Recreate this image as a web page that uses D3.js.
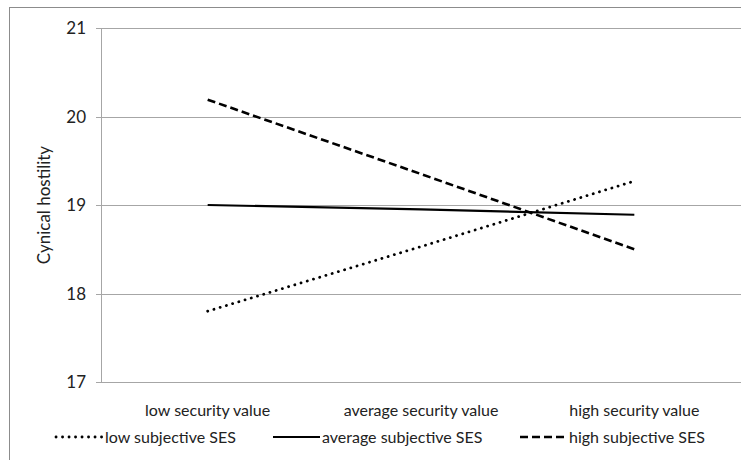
<!DOCTYPE html>
<meta charset="utf-8">
<style>
  body { margin: 0; background: #fff; }
  text { font-family: Lato, "Open Sans", sans-serif; fill: #222; }
</style>
<svg width="741" height="460"></svg>
<script src="https://d3js.org/d3.v7.min.js"></script>
<script>

var categories = ['low security value', 'average security value', 'high security value'];
var yTicks = [17, 18, 19, 20, 21];

var lowSES = [17.8, 18.53, 19.27];
var avgSES = [19.0, 18.95, 18.89];
var highSES = [20.19, 19.35, 18.5];

var series = [
  {name: 'low subjective SES', values: lowSES, dash: '0.1,6.4', cap: 'round', w: 2.8},
  {name: 'average subjective SES', values: avgSES, dash: null, cap: 'butt', w: 2.2},
  {name: 'high subjective SES', values: highSES, dash: '8,4', cap: 'butt', w: 2.6}
];

var svg = d3.select('svg');

var m = {left: 101, right: 741, top: 28, bottom: 382};

// chart frame (cut off at right and bottom like the original)
svg.append('rect')
  .attr('x', 9.5).attr('y', 7.5)
  .attr('width', 760).attr('height', 480)
  .attr('fill', 'none')
  .attr('stroke', '#8c8c8c')
  .attr('stroke-width', 1);

var x = d3.scaleBand().domain(categories).range([m.left, m.right]);
var y = d3.scaleLinear().domain([17, 21]).range([m.bottom, m.top]);

// gridlines
svg.append('g')
  .selectAll('line')
  .data(yTicks)
  .enter().append('line')
  .attr('x1', m.left - 5)
  .attr('x2', m.right)
  .attr('y1', d => Math.round(y(d)) + 0.5)
  .attr('y2', d => Math.round(y(d)) + 0.5)
  .attr('stroke', '#a6a6a6')
  .attr('stroke-width', 1);

// y axis line
svg.append('line')
  .attr('x1', m.left + 0.5).attr('x2', m.left + 0.5)
  .attr('y1', m.top).attr('y2', m.bottom)
  .attr('stroke', '#a6a6a6');

svg.append('g')
  .selectAll('text')
  .data(yTicks)
  .enter().append('text')
  .attr('x', m.left - 15)
  .attr('y', d => y(d))
  .attr('dy', '0.36em')
  .attr('text-anchor', 'end')
  .style('font-size', '17px')
  .text(d => d);

svg.append('text')
  .attr('transform', 'translate(50,' + y(19) + ') rotate(-90)')
  .attr('text-anchor', 'middle')
  .style('font-size', '17px')
  .text('Cynical hostility');

svg.append('g')
  .selectAll('text')
  .data(categories)
  .enter().append('text')
  .attr('x', d => x(d) + x.bandwidth() / 2)
  .attr('y', 416)
  .attr('text-anchor', 'middle')
  .style('font-size', '16px')
  .text(d => d);

var line = d3.line()
  .x((d, i) => x(categories[i]) + x.bandwidth() / 2)
  .y(d => y(d));

svg.append('g')
  .selectAll('path')
  .data(series)
  .enter().append('path')
  .attr('d', d => line(d.values))
  .attr('fill', 'none')
  .attr('stroke', '#000')
  .attr('stroke-width', d => d.w)
  .attr('stroke-linecap', d => d.cap)
  .attr('stroke-dasharray', d => d.dash);

// legend
var legendX = [55, 272, 519];
var leg = svg.append('g')
  .selectAll('g')
  .data(series)
  .enter().append('g')
  .attr('transform', (d, i) => 'translate(' + legendX[i] + ',437)');

leg.append('line')
  .attr('x1', 1).attr('x2', 48)
  .attr('y1', 0).attr('y2', 0)
  .attr('stroke', '#000')
  .attr('stroke-width', d => d.w)
  .attr('stroke-linecap', d => d.cap)
  .attr('stroke-dasharray', d => d.dash);

leg.append('text')
  .attr('x', 50)
  .attr('dy', '0.36em')
  .style('font-size', '16px')
  .text(d => d.name);

</script>
